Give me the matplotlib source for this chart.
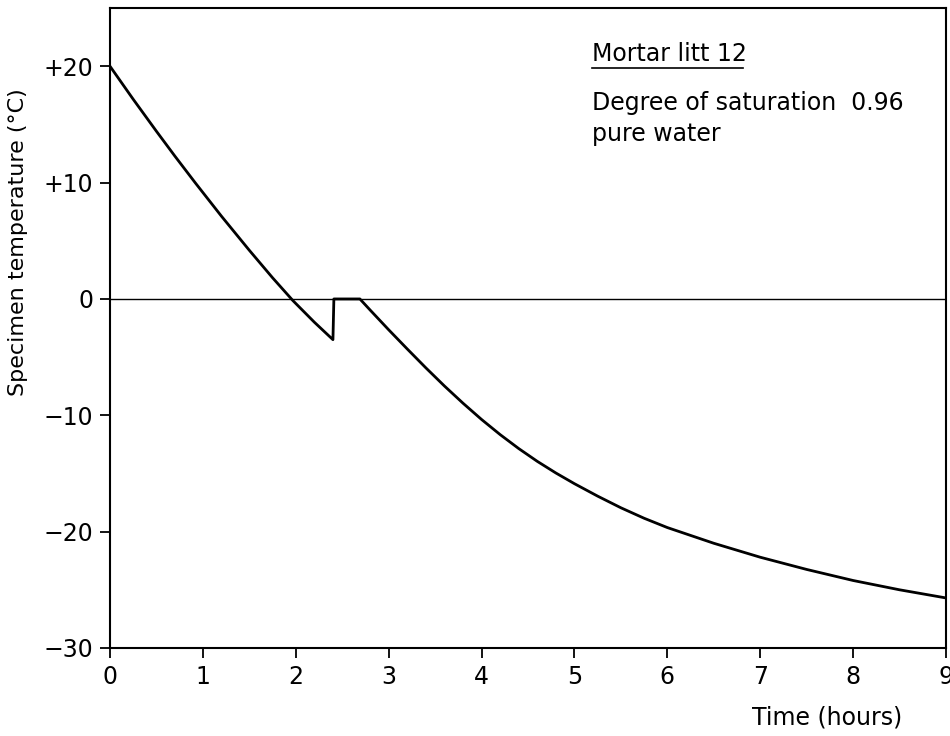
import numpy as np
import matplotlib.pyplot as plt

# curve: time (hours) vs specimen temperature (deg C)
time_h = [0.0, 0.25, 0.5, 0.7, 0.92, 1.2, 1.5, 1.75, 1.97, 2.20, 2.40, 2.41,
          2.69, 2.80, 3.0, 3.2, 3.4, 3.6, 3.8, 4.0, 4.2, 4.4, 4.6, 4.8,
          5.0, 5.25, 5.5, 5.75, 6.0, 6.5, 7.0, 7.5, 8.0, 8.5, 9.0]
temp_c = [20.0, 17.16, 14.41, 12.26, 9.96, 7.11, 4.18, 1.82, -0.15, -2.0, -3.5, 0.0,
          0.0, -0.95, -2.65, -4.3, -5.92, -7.48, -8.96, -10.36, -11.66, -12.86, -13.96, -14.96,
          -15.88, -16.95, -17.95, -18.85, -19.65, -21.0, -22.2, -23.25, -24.2, -25.0, -25.7]

x_ticks = [0, 1, 2, 3, 4, 5, 6, 7, 8, 9]
y_ticks = [20, 10, 0, -10, -20, -30]
y_tick_labels = ['+20', '+10', '0', '\u221210', '\u221220', '\u221230']

plt.rcParams['font.family'] = ['DejaVu Sans']

fig = plt.figure(figsize=(9.5, 7.36), dpi=100)
ax = fig.add_axes([0.1158, 0.1196, 0.88, 0.8694])

ax.axhline(0, color='black', lw=1.0)
ax.plot(time_h, temp_c, color='black', lw=2.0, solid_joinstyle='round')

ax.set_xlim(0, 9)
ax.set_ylim(-30, 25)
ax.set_xticks(x_ticks)
ax.set_xticklabels([str(t) for t in x_ticks])
ax.set_yticks(y_ticks)
ax.set_yticklabels(y_tick_labels)
ax.tick_params(direction='out', length=7, width=1.3, labelsize=17, pad=5, colors='black')
for s in ax.spines.values():
    s.set_linewidth(1.5)

fig.text(18 / 950, 1 - 242 / 736, 'Specimen temperature (\u00b0C)', rotation=90,
         ha='center', va='center', fontsize=16)
fig.text(902 / 950, 1 - 717 / 736, 'Time (hours)', ha='right', va='center', fontsize=17)

ax.text(0.5766, 0.917, 'Mortar litt 12', transform=ax.transAxes, fontsize=17,
        ha='left', va='baseline')
ax.plot([0.5766, 0.757], [0.906, 0.906], transform=ax.transAxes, color='black', lw=1.2)
ax.text(0.5766, 0.841, 'Degree of saturation  0.96', transform=ax.transAxes, fontsize=17,
        ha='left', va='baseline')
ax.text(0.5766, 0.793, 'pure water', transform=ax.transAxes, fontsize=17,
        ha='left', va='baseline')

fig.savefig('out.png', dpi=100)
